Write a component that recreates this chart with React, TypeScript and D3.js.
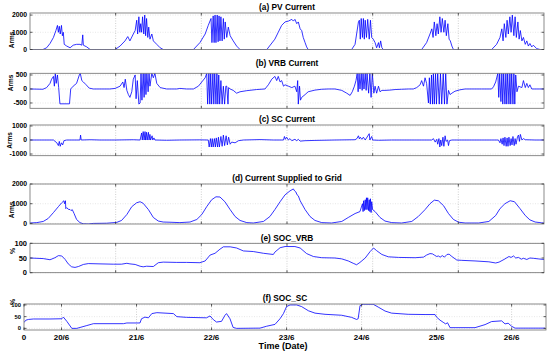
import React from 'react';
import * as d3 from 'd3';

// time in hours from the start of the record
const pvCurrent: [number, number][] = [
  [0, 0], [4.2, 0], [5.4, 100], [6.5, 350], [7.6, 700], [8.4, 1100], [8.9, 1400], [9.2, 1000], [9.5, 1350], [9.8, 900], [10.2, 1400], [10.5, 800], [10.8, 1000], [11.1, 300], [11.9, 200], [13, 100], [14, 250], [15.1, 300], [16.2, 300], [16.8, 250], [17.1, 850], [17.3, 250], [18.4, 150], [19.5, 0],
  [27.6, 0], [29.2, 200], [30.8, 500], [31.7, 750], [32.4, 500], [33.5, 900], [34.1, 1100], [34.6, 1700], [34.9, 900], [35.3, 1900], [35.6, 1000], [35.9, 1500], [36.2, 1000], [36.5, 1900], [36.9, 900], [37.2, 2000], [37.5, 800], [37.8, 1800], [38.2, 700], [38.5, 1300], [38.9, 600], [39.5, 900], [40, 500], [41.1, 300], [42.2, 100], [43.2, 0],
  [53, 0], [55.1, 400], [56.8, 900], [57.8, 1400], [58.7, 1800], [59, 400], [59.4, 1950], [59.7, 400], [60, 2000], [60.3, 400], [60.7, 2000], [61, 450], [61.3, 1950], [61.6, 500], [61.9, 1900], [62.3, 500], [62.7, 1800], [63, 600], [63.3, 1600], [63.8, 700], [64.3, 1300], [64.9, 800], [65.9, 500], [67, 200], [68.1, 0],
  [76.8, 0], [79.4, 600], [80.5, 1000], [81.6, 1400], [82.7, 1600], [83.8, 1650], [84.9, 1750], [85.4, 1650], [85.9, 1750], [86.5, 1500], [87, 1600], [87.6, 1200], [88.1, 1100], [88.6, 700], [89.2, 400], [89.7, 150], [90.2, 0],
  [104.3, 0], [105.4, 300], [106.5, 1600], [106.8, 1700], [107.1, 600], [107.4, 1800], [107.8, 700], [108.1, 1800], [108.4, 600], [108.7, 1700], [109.1, 700], [109.5, 1750], [110, 600], [110.4, 1700], [110.8, 700], [111.3, 600], [111.9, 400], [112.4, 100], [113, 400], [113.3, 100], [113.7, 500], [114.1, 100], [114.6, 0],
  [127, 0], [128.6, 400], [129.7, 900], [130.3, 1200], [130.7, 700], [131.1, 1600], [131.6, 800], [132, 1500], [132.4, 900], [132.9, 1900], [133.3, 1000], [133.7, 1800], [134.2, 1000], [134.6, 1700], [135, 800], [135.5, 1500], [135.9, 600], [136.3, 500], [136.8, 200], [137.3, 0],
  [149.7, 0], [151.3, 300], [152.4, 700], [153, 1200], [153.4, 500], [153.8, 1500], [154.3, 700], [154.7, 1700], [155.1, 900], [155.6, 1900], [156, 1000], [156.4, 2000], [156.9, 800], [157.3, 1900], [157.7, 700], [158.2, 1600], [158.6, 600], [159, 1100], [159.5, 500], [160, 700], [160.6, 300], [161.1, 500], [161.6, 200], [162.1, 350], [162.7, 150], [163.2, 250], [164.3, 50], [165.4, 0], [166.7, 0],
];

const vrbCurrent: [number, number][] = [
  [0, 0], [4.2, -10], [5.4, 50], [6.5, 200], [7, 350], [7.6, 450], [7.9, 100], [8.2, 550], [8.5, 200], [8.9, 500], [9.3, 50], [9.7, -530], [12.8, -530], [13.2, 0], [14, 100], [15.1, 200], [16, 500], [16.3, 560], [16.8, 300], [17.3, 250], [18.2, 150], [19.2, 30], [20.5, 0], [25.9, 0], [27.6, 20],
  [29.2, 100], [30.1, 250], [30.5, 50], [30.9, 350], [31.4, -50], [31.9, -200], [32.4, -300], [33, -100], [33.5, 350], [34.1, 500], [34.4, -350], [34.8, 300], [35.3, -540], [35.7, -500], [36, 560], [36.3, -400], [36.7, 560], [37, -300], [37.3, 560], [37.6, -200], [37.9, 560], [38.3, -100], [38.6, 560], [38.9, 100], [39.5, 560], [40, 400], [40.5, 560], [41.1, 200], [42.2, 50], [44.3, 0], [47.6, 0], [48.6, 20], [50.8, 0], [53, 0],
  [54.6, 100], [55.7, 250], [56.8, 400], [57.3, 550], [57.6, -540], [58, 560], [58.3, -540], [58.6, 560], [58.9, -540], [59.3, 560], [59.6, -540], [59.9, 560], [60.3, -540], [60.6, 560], [60.9, -540], [61.2, 500], [61.5, -540], [61.9, 300], [62.3, -540], [62.7, 100], [63.1, -540], [63.5, 100], [63.8, 100], [64.2, -540], [64.4, 50], [64.9, 0], [65.9, -50], [67, -150], [68.1, -100], [70.3, -60], [73.5, -20], [76.2, 0], [77.3, 150], [78.4, 350],
  [79.4, 450], [80, 300], [80.5, 450], [81.1, 250], [81.6, 300], [82.2, 100], [82.7, 150], [83.8, 100], [84.9, 50], [85.9, 100], [86.5, -100], [86.8, 300], [87, -540], [87.4, 100], [87.7, -400], [88.1, -300], [89.2, -200], [90.2, -100], [92.4, -40], [94.6, -10], [96.7, 0], [98.9, 0], [101.1, -50], [102.7, -150], [103.8, -230], [104.5, -100], [105.2, 100], [105.7, 300], [106.1, 560], [106.4, -100], [106.7, 560], [107, 0], [107.4, 560], [107.7, -50], [108, 560], [108.3, 0], [108.7, 560], [109, -50], [109.3, 560], [109.8, -150], [110.2, 560], [110.6, -300], [111, 560], [111.5, -150], [111.9, 100], [112.4, -150], [113, 100], [113.5, -100], [114.1, -50], [115.1, -50], [116.7, -40], [118.4, -20], [120.5, -10], [122.7, 0], [124.3, 0], [125.4, 50],
  [126.5, 150], [127, 300], [127.6, 100], [128.1, 400], [128.6, 200], [129.2, -500], [129.5, 400], [129.8, -540], [130.2, 500], [130.5, -540], [130.8, 560], [131.1, -540], [131.5, 560], [131.8, -540], [132.2, 560], [132.7, -540], [133.1, 560], [133.5, -540], [134, 560], [134.4, -540], [134.8, 560], [135.2, -540], [135.7, -50], [136.2, -200], [136.8, -150], [137.8, -80], [139.4, -30], [141.1, 0], [146.5, 0], [149.7, 0],
  [150.3, 80], [151, 250], [151.7, 560], [152, -300], [152.3, 560], [152.7, -450], [153, 560], [153.3, -540], [153.6, 560], [154, -540], [154.3, 560], [154.6, -540], [154.9, 560], [155.3, -540], [155.6, 560], [155.9, -540], [156.2, 560], [156.6, -540], [156.9, 560], [157.2, -540], [157.5, 500], [157.9, -100], [158.4, 100], [159.5, 50], [160, 300], [160.6, 50], [161.1, 200], [161.6, 50], [162.1, 150], [162.7, 0], [165.9, 0], [166.7, 0],
];

const scCurrent: [number, number][] = [
  [0, 0], [7.6, 0], [8.7, -200], [9.2, -400], [9.5, -100], [9.8, -450], [10.2, -200], [10.6, -350], [11, -50], [11.9, 0], [16.2, 0], [16.4, 350], [16.6, 0], [19.5, 20], [22.7, 0], [27.6, 0], [33.5, 20], [35.7, 0],
  [36.2, 500], [36.4, 0], [36.7, 600], [37, 0], [37.3, 600], [37.5, 0], [37.8, 550], [38, 0], [38.4, 550], [38.6, 0], [38.9, 400], [39.1, 0], [39.6, 300], [39.8, 0], [40.2, 150], [40.5, 0], [44.3, -20], [48.6, 0], [55.1, 10], [57.8, 0],
  [58.1, -500], [58.5, 100], [58.8, -500], [59.1, 100], [59.4, -500], [59.8, 100], [60.1, -500], [60.4, 150], [60.8, -500], [61.1, 200], [61.4, -500], [61.9, 250], [62.3, -450], [62.7, 350], [63.1, -400], [63.6, 300], [64, -350], [64.4, 200], [64.9, -300], [65.4, -150], [66.5, -200], [67.6, -50], [69.2, 0], [74.6, 30], [78.9, 0],
  [82.2, 0], [82.5, 250], [82.8, 50], [83.2, 200], [83.8, 0], [84.3, 100], [84.9, -50], [85.9, 50], [86.5, -50], [87, 50], [87.6, -80], [89.2, -50], [92.4, -30], [98.9, 0], [105.4, 20], [106, 100], [106.5, 300], [106.8, 80], [107.1, 200], [107.6, 50], [108.1, 200], [108.7, 0], [110, 450], [110.2, 0], [110.8, 250], [111.1, 0], [113, -20], [117.3, 0], [124.9, 0], [130.3, 0],
  [130.8, 100], [131.4, -150], [131.9, 50], [132.2, -300], [132.6, 100], [132.9, -500], [133.2, 0], [133.5, -400], [133.9, 200], [134.2, -450], [134.6, 300], [134.9, -100], [135.4, 0], [135.7, -400], [136, -50], [136.8, 0], [144.3, 0], [151.9, 0],
  [152.4, -200], [152.7, 100], [153.1, -300], [153.4, 150], [153.7, -400], [154, 200], [154.4, -450], [154.7, 150], [155, -450], [155.3, 200], [155.7, -400], [156, 100], [156.3, -350], [156.6, 250], [157, -400], [157.3, 100], [157.6, -300], [158.1, 250], [158.4, 350], [158.7, -100], [159, 400], [159.5, 0], [160, 100], [160.6, 20], [163.8, 0], [166.7, 0],
];

const gridCurrent: [number, number][] = [
  [0, 20], [2.2, 40], [4.3, 100], [5.9, 250], [7.6, 550], [9.2, 850], [10.3, 1050], [11, 1150], [11.2, 1000], [11.5, 1150], [11.6, 750], [11.9, 800], [12.4, 720], [13, 700], [13.3, 650], [13.7, 700], [14.3, 500], [15.1, 200], [16.2, 40], [17.3, -20], [18.9, -30], [20.5, 0], [24.9, 10],
  [28.1, 50], [29.7, 150], [31.4, 450], [33, 850], [34.6, 1050], [35.7, 1100], [36.7, 1020], [38.4, 700], [40, 300], [41.6, 120], [43.2, 70], [45.4, 60], [48.6, 40], [51.9, 70],
  [54.1, 200], [55.7, 450], [57.3, 850], [58.9, 1200], [60.3, 1350], [61.6, 1340], [63.2, 1100], [64.9, 700], [66.5, 350], [68.1, 150], [70.3, 40], [72.4, 20], [75.7, 100],
  [77.8, 350], [79.4, 700], [81.1, 1100], [82.7, 1450], [84.3, 1650], [85.4, 1750], [85.8, 1650], [86.2, 1600], [86.6, 1450], [87, 1400], [87.6, 1150], [89.2, 700], [90.8, 350], [92.4, 150], [94.6, 40], [97.8, 20], [101.1, 100],
  [103.2, 300], [105.4, 500], [107, 600], [107.8, 1000], [108, 600], [108.2, 1150], [108.4, 650], [108.7, 1200], [108.9, 700], [109.1, 1300], [109.3, 700], [109.5, 1300], [109.8, 650], [110, 1200], [110.2, 600], [110.4, 1250], [110.6, 550], [110.8, 1100], [111.1, 700], [111.9, 600], [113.5, 300], [115.1, 120], [117.3, 40], [120.5, 20], [123.8, 100],
  [125.9, 350], [128.1, 700], [129.7, 1000], [131.1, 1180], [132.4, 1150], [134.1, 900], [135.7, 500], [137.3, 200], [139, 60], [141.1, 20], [145.5, 20], [148.8, 100],
  [151, 400], [152.4, 750], [154, 1000], [155.7, 1150], [157.1, 1100], [158.9, 750], [160.6, 400], [162.1, 180], [163.8, 70], [165.9, 30], [166.7, 20],
];

const socVrb: [number, number][] = [
  [0, 50], [4.3, 48], [6.5, 44], [8.1, 51], [9.2, 58], [10.3, 57], [11.4, 45], [12.4, 30], [13.5, 20], [14.6, 18], [15.7, 21], [17.3, 28], [18.9, 31], [22.7, 30], [27, 29], [29.7, 29], [31.4, 32], [32.4, 30], [34.1, 28], [35.7, 22], [36.7, 20], [37.8, 22], [40, 21], [41.6, 34], [43.2, 36], [47.6, 35], [50.8, 35], [55.1, 34],
  [56.8, 40], [58.4, 60], [60, 66], [61.6, 80], [62.7, 88], [64.9, 88], [67, 84], [69.2, 74], [72.4, 72], [75.7, 66], [78.9, 62], [79.4, 70], [81.1, 85], [82.7, 89], [85.9, 89], [87.6, 84], [89.7, 65], [91.9, 55], [94.6, 51], [98.9, 50], [101.1, 47], [103.2, 40], [104.8, 32], [105.9, 27], [107, 35], [108.7, 50], [110.3, 72], [111.4, 84], [112.4, 75], [114.1, 62], [116.2, 54], [119.5, 52], [124.9, 51],
  [127.6, 53], [128.6, 60], [129.7, 65], [130.5, 64], [131.1, 60], [131.9, 55], [132.4, 57], [133, 53], [133.7, 58], [134.4, 53], [135.2, 62], [135.9, 63], [136.8, 55], [138.4, 43], [140, 42], [144.3, 40], [148.8, 37], [151, 33], [152.1, 36], [153.7, 45], [155.3, 55], [156, 52], [156.8, 57], [157.5, 50], [158.4, 52], [159.3, 46], [160, 49], [161.1, 45], [162.1, 50], [163.2, 49], [164.8, 47], [166.7, 45],
];

const socSc: [number, number][] = [
  [0, 25], [0.6, 35], [1.4, 38], [3, 40], [8.3, 40], [12.1, 41], [12.6, 48], [13.7, 30], [15.3, 0], [16.9, 0], [20.1, 12], [21.7, 18], [22.2, 20], [31.8, 20], [32.9, 23], [37.1, 23],
  [37.6, 41], [38.7, 48], [39.8, 45], [40.9, 63], [42.5, 67], [47.8, 63], [48.9, 50], [52, 47], [58.4, 45], [59.5, 53], [60.6, 37], [61.6, 27], [63.2, 30], [64.3, 56], [64.8, 63], [65.9, 41], [66.9, 4], [68, 0], [75.5, 1], [77.6, 9], [80.3, 17],
  [81.9, 41], [83, 63], [84, 93], [85.1, 100], [87.2, 100], [88.8, 93], [91, 75], [93.1, 65], [96.3, 60], [101.6, 56], [104.8, 47], [106.4, 38], [106.9, 41], [107.5, 97], [108.5, 103], [111.7, 103], [113.3, 91], [115.5, 74], [117.6, 65], [122.9, 60], [128.3, 59], [131.5, 59],
  [132, 48], [133.1, 35], [134.1, 26], [134.9, 19], [135.5, 24], [136.3, 3], [137.9, 3], [144.3, 3], [147.5, 16], [149.6, 29], [152.8, 32], [153.9, 19], [154.9, 22], [156, 9], [157.1, 1], [166.7, 1],
];

const pvTicks = [0, 1000, 2000];
const vrbTicks = [-500, 0, 500];
const scTicks = [-1000, 0, 1000];
const gridTicks = [0, 1000, 2000];
const socTicks = [0, 50, 100];

const dateTickHours = [0, 12, 36, 60, 84, 108, 132, 156];
const dateLabels = ['0', '20/6', '21/6', '22/6', '23/6', '24/6', '25/6', '26/6'];

// panels (a)-(e) are plotted in seconds, with unlabelled ticks every 1e5 s
const secondTicks = [1, 2, 3, 4, 5].map((k) => (k * 1e5) / 3600);

const FONT = "'Liberation Sans', Arial, Helvetica, sans-serif";
const BLUE = '#0000ff';

type Panel = {
  id: string;
  title: string;
  data: [number, number][];
  yDomain: [number, number];
  yTicks: number[];
  top: number;
  bottom: number;
  left: number;
  right: number;
  xDomain: [number, number];
  xTicks: number[];
  ylabel: string;
  ylabelX: number;
  ylabelY: number;
  titleY: number;
  tickFont: number;
};

const panels: Panel[] = [
  { id: 'a', title: '(a) PV Current', data: pvCurrent, yDomain: [0, 2120], yTicks: pvTicks, top: 13, bottom: 49.5, left: 30, right: 544, xDomain: [0, 166.67], xTicks: secondTicks, ylabel: 'Arms', ylabelX: 12, ylabelY: 40, titleY: 9.5, tickFont: 6.8 },
  { id: 'b', title: '(b) VRB Current', data: vrbCurrent, yDomain: [-690, 560], yTicks: vrbTicks, top: 73.3, bottom: 108.3, left: 30, right: 544, xDomain: [0, 166.67], xTicks: secondTicks, ylabel: 'Arms', ylabelX: 10.5, ylabelY: 83, titleY: 66, tickFont: 6.8 },
  { id: 'c', title: '(c) SC Current', data: scCurrent, yDomain: [-1120, 1070], yTicks: scTicks, top: 125, bottom: 155.7, left: 30, right: 544, xDomain: [0, 166.67], xTicks: secondTicks, ylabel: 'Arms', ylabelX: 9.5, ylabelY: 140.5, titleY: 121.5, tickFont: 6.8 },
  { id: 'd', title: '(d) Current Supplied to Grid', data: gridCurrent, yDomain: [-30, 2000], yTicks: gridTicks, top: 184, bottom: 224, left: 30, right: 544, xDomain: [0, 166.67], xTicks: secondTicks, ylabel: 'Arms', ylabelX: 12, ylabelY: 210, titleY: 181, tickFont: 6.8 },
  { id: 'e', title: '(e) SOC_VRB', data: socVrb, yDomain: [0, 100], yTicks: socTicks, top: 243.3, bottom: 272.7, left: 30, right: 544, xDomain: [0, 166.67], xTicks: secondTicks, ylabel: '%', ylabelX: 13, ylabelY: 251, titleY: 240.5, tickFont: 7.5 },
  { id: 'f', title: '(f) SOC_SC', data: socSc, yDomain: [-7, 104], yTicks: socTicks, top: 304, bottom: 330, left: 24, right: 546, xDomain: [0, 167], xTicks: dateTickHours, ylabel: '%', ylabelX: 13, ylabelY: 302, titleY: 301, tickFont: 5.8 },
];

const PanelView = ({ p }: { p: Panel }) => {
  const x = d3.scaleLinear().domain(p.xDomain).range([p.left, p.right]);
  const y = d3.scaleLinear().domain(p.yDomain).range([p.bottom, p.top]);
  const line = d3
    .line<[number, number]>()
    .x((d) => x(d[0]))
    .y((d) => y(d[1]));
  const tick = 2.5;
  const mid = (p.left + p.right) / 2;
  return (
    <g>
      <defs>
        <clipPath id={`clip-${p.id}`}>
          <rect x={p.left} y={p.top} width={p.right - p.left} height={p.bottom - p.top} />
        </clipPath>
      </defs>
      {p.xTicks
        .filter((t) => t > p.xDomain[0])
        .map((t) => (
          <line key={`gx${t}`} x1={x(t)} x2={x(t)} y1={p.top} y2={p.bottom} stroke="#b0b0b0" strokeWidth={0.6} strokeDasharray="1 1.5" />
        ))}
      {p.yTicks.map((t) => (
        <line key={`gy${t}`} x1={p.left} x2={p.right} y1={y(t)} y2={y(t)} stroke="#d0d0d0" strokeWidth={0.5} strokeDasharray="1 1.5" />
      ))}
      <path d={line(p.data) || ''} fill="none" stroke={BLUE} strokeWidth={0.8} strokeLinejoin="round" clipPath={`url(#clip-${p.id})`} />
      <rect x={p.left} y={p.top} width={p.right - p.left} height={p.bottom - p.top} fill="none" stroke="#6e6e6e" strokeWidth={0.8} />
      {p.xTicks.map((t) => (
        <g key={`tx${t}`}>
          <line x1={x(t)} x2={x(t)} y1={p.bottom} y2={p.bottom - tick} stroke="#333" strokeWidth={0.8} />
          <line x1={x(t)} x2={x(t)} y1={p.top} y2={p.top + tick} stroke="#333" strokeWidth={0.8} />
        </g>
      ))}
      {p.yTicks.map((t) => (
        <g key={`ty${t}`}>
          <line x1={p.left} x2={p.left + tick} y1={y(t)} y2={y(t)} stroke="#333" strokeWidth={0.8} />
          <line x1={p.right} x2={p.right - tick} y1={y(t)} y2={y(t)} stroke="#333" strokeWidth={0.8} />
          <text x={p.left - 3} y={y(t)} dy="0.35em" textAnchor="end" fontSize={p.tickFont} fontWeight="bold" fontFamily={FONT} fill="#000">
            {t}
          </text>
        </g>
      ))}
      <text x={mid} y={p.titleY} textAnchor="middle" fontSize={8.3} fontWeight="bold" fontFamily={FONT} fill="#000">
        {p.title}
      </text>
      <text transform={`translate(${p.ylabelX},${p.ylabelY}) rotate(-90)`} textAnchor="middle" dy="0.35em" fontSize={p.ylabel === '%' ? 7 : 6.5} fontWeight="bold" fontFamily={FONT} fill="#000">
        {p.ylabel}
      </text>
    </g>
  );
};

export default function App() {
  const f = panels[5];
  const xf = d3.scaleLinear().domain(f.xDomain).range([f.left, f.right]);
  return (
    <svg width={550} height={353} style={{ position: 'absolute', left: 0, top: 0, background: '#fff' }}>
      <rect width={550} height={353} fill="#fff" />
      {panels.map((p) => (
        <PanelView key={p.id} p={p} />
      ))}
      {dateTickHours.map((t, i) => (
        <text key={t} x={xf(t)} y={339.5} textAnchor="middle" fontSize={8} fontWeight="bold" fontFamily={FONT} fill="#000">
          {dateLabels[i]}
        </text>
      ))}
      <text x={283} y={349} textAnchor="middle" fontSize={9} fontWeight="bold" fontFamily={FONT} fill="#000">
        Time (Date)
      </text>
    </svg>
  );
}
